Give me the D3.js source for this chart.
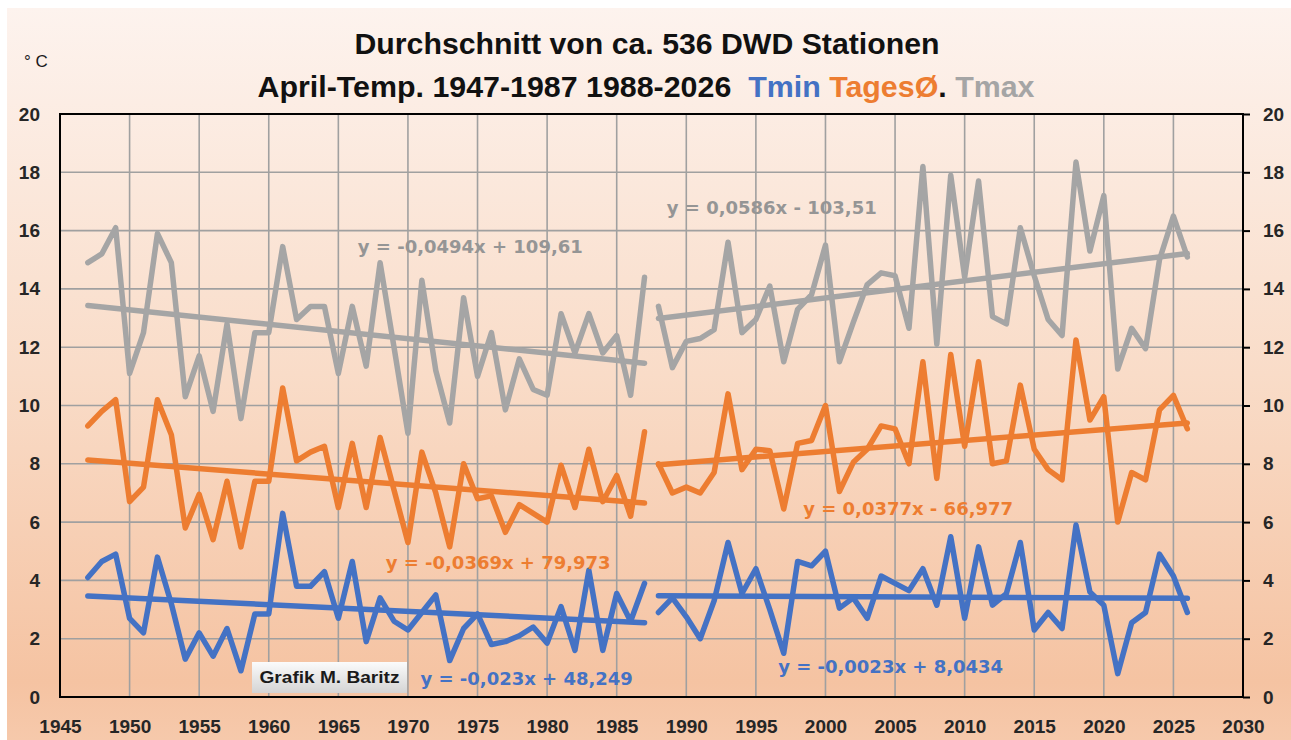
<!DOCTYPE html>
<html>
<head>
<meta charset="utf-8">
<script src="https://cdn.jsdelivr.net/npm/d3@7"></script>
<style>
  body { margin: 0; background: #fff; }
</style>
</head>
<body>
<div id="chart"></div>
<script>
// ===========Data (April, mean of ca. 536 DWD stations)
var years1 = d3.range(1947, 1988);   // 1947-1987
var years2 = d3.range(1988, 2027);   // 1988-2026

var tmax1 = [14.9, 15.2, 16.1, 11.1, 12.5, 15.9, 14.9, 10.3, 11.7, 9.8,
             12.8, 9.55, 12.5, 12.5, 15.45, 12.95, 13.4, 13.4, 11.1, 13.4,
             11.35, 14.9, 12.0, 9.05, 14.3, 11.2, 9.4, 13.7, 11.0, 12.5,
             9.85, 11.6, 10.55, 10.35, 13.15, 11.8, 13.15, 11.8, 12.4, 10.35,
             14.4];
var tages1 = [9.3, 9.8, 10.2, 6.7, 7.2, 10.2, 9.0, 5.8, 6.95, 5.4,
              7.4, 5.15, 7.4, 7.4, 10.6, 8.1, 8.4, 8.6, 6.5, 8.7,
              6.5, 8.9, 7.1, 5.3, 8.4, 7.0, 5.15, 8.0, 6.8, 6.9,
              5.65, 6.6, 6.3, 6.0, 7.95, 6.5, 8.5, 6.7, 7.6, 6.2,
              9.1];
var tmin1 = [4.1, 4.65, 4.9, 2.7, 2.2, 4.8, 3.2, 1.3, 2.2, 1.4,
             2.35, 0.9, 2.85, 2.85, 6.3, 3.8, 3.8, 4.3, 2.7, 4.65,
             1.9, 3.4, 2.6, 2.3, 2.9, 3.5, 1.25, 2.35, 2.85, 1.8,
             1.9, 2.1, 2.4, 1.85, 3.1, 1.6, 4.35, 1.6, 3.55, 2.6,
             3.9];

var tmax2 = [13.4, 11.3, 12.2, 12.3, 12.6, 15.6, 12.5, 12.95, 14.1, 11.5,
             13.3, 13.8, 15.5, 11.5, 12.85, 14.15, 14.55, 14.45, 12.65, 18.2,
             12.1, 17.9, 14.4, 17.7, 13.05, 12.8, 16.1, 14.45, 12.95, 12.4,
             18.35, 15.3, 17.2, 11.25, 12.65, 11.95, 15.0, 16.5, 15.1];
var tages2 = [8.0, 7.0, 7.2, 7.0, 7.7, 10.4, 7.8, 8.5, 8.45, 6.45,
              8.7, 8.8, 10.0, 7.05, 8.05, 8.5, 9.3, 9.2, 8.0, 11.5,
              7.5, 11.75, 8.6, 11.5, 8.0, 8.1, 10.7, 8.5, 7.8, 7.45,
              12.25, 9.5, 10.3, 6.0, 7.7, 7.45, 9.85, 10.35, 9.2];
var tmin2 = [2.9, 3.4, 2.75, 2.0, 3.3, 5.3, 3.55, 4.4, 3.0, 1.5,
             4.65, 4.5, 5.0, 3.05, 3.4, 2.7, 4.15, 3.9, 3.65, 4.4,
             3.15, 5.5, 2.7, 5.15, 3.15, 3.55, 5.3, 2.3, 2.9, 2.35,
             5.9, 3.6, 3.15, 0.8, 2.55, 2.9, 4.9, 4.15, 2.9];

// linear trends as printed in the chart [slope, intercept]
var trendTmax1 = [-0.0494, 109.61];
var trendTmax2 = [0.0586, -103.51];
var trendTages1 = [-0.0369, 79.973];
var trendTages2 = [0.0377, -66.977];
var trendTmin1 = [-0.023, 48.249];
var trendTmin2 = [-0.0023, 8.0434];

// where the trend equations sit [year, °C]
var labTmax1 = [1966.4, 15.45];
var labTmax2 = [1988.6, 16.8];
var labTages1 = [1968.4, 4.6];
var labTages2 = [1998.4, 6.45];
var labTmin1 = [1970.9, 0.62];
var labTmin2 = [1996.6, 1.06];

var xTicks = d3.range(1945, 2031, 5);
var yTicks = d3.range(0, 21, 2);

var series = [
    {name: "Tmin", color: "#4472C4", text: "#4472C4", v1: tmin1, v2: tmin2, t1: trendTmin1, t2: trendTmin2, l1: labTmin1, l2: labTmin2},
    {name: "Tages", color: "#ED7D31", text: "#ED7D31", v1: tages1, v2: tages2, t1: trendTages1, t2: trendTages2, l1: labTages1, l2: labTages2},
    {name: "Tmax", color: "#A5A5A5", text: "#959595", v1: tmax1, v2: tmax2, t1: trendTmax1, t2: trendTmax2, l1: labTmax1, l2: labTmax2}
];

var sansFont = "'Liberation Sans', Arial, sans-serif";
var eqFont = "'DejaVu Sans', Verdana, sans-serif";

// ===========Set Height, Width and Margins
var svgWidth = 1291;
var svgHeight = 740;
var margin = {top: 114, right: 48, bottom: 43, left: 60};
var width = svgWidth - margin.left - margin.right;
var height = svgHeight - margin.top - margin.bottom;

var svg = d3.select("#chart").append("svg")
    .attr("width", svgWidth)
    .attr("height", svgHeight)
    .style("font-family", sansFont);

// ===========Background
var defs = svg.append("defs");
var grad = defs.append("linearGradient")
    .attr("id", "bg")
    .attr("x1", 0).attr("y1", 0).attr("x2", 0).attr("y2", 1);
grad.append("stop").attr("offset", "0%").attr("stop-color", "#fdf3ee");
grad.append("stop").attr("offset", "50%").attr("stop-color", "#f9dcc8");
grad.append("stop").attr("offset", "92%").attr("stop-color", "#f5c3a2");
grad.append("stop").attr("offset", "100%").attr("stop-color", "#f6c9ab");

var btn = defs.append("linearGradient")
    .attr("id", "btn")
    .attr("x1", 0).attr("y1", 0).attr("x2", 0).attr("y2", 1);
btn.append("stop").attr("offset", "0%").attr("stop-color", "#fbfbfb");
btn.append("stop").attr("offset", "100%").attr("stop-color", "#d4d4d4");

svg.append("rect")
    .attr("x", 7).attr("y", 8)
    .attr("width", svgWidth - 7).attr("height", svgHeight - 8)
    .attr("fill", "url(#bg)");

// ===========Title
svg.append("text")
    .attr("x", 647).attr("y", 54)
    .attr("text-anchor", "middle")
    .attr("font-size", 29).attr("font-weight", "bold")
    .attr("textLength", 585).attr("lengthAdjust", "spacingAndGlyphs")
    .attr("fill", "#111")
    .text("Durchschnitt von ca. 536 DWD Stationen");

var title2 = svg.append("text")
    .attr("x", 646).attr("y", 97)
    .attr("text-anchor", "middle")
    .attr("font-size", 29).attr("font-weight", "bold")
    .attr("textLength", 777).attr("lengthAdjust", "spacingAndGlyphs")
    .attr("fill", "#111");
title2.append("tspan").text("April-Temp. 1947-1987 1988-2026\u00a0\u00a0");
title2.append("tspan").attr("fill", "#4472C4").text("Tmin ");
title2.append("tspan").attr("fill", "#ED7D31").text("TagesØ");
title2.append("tspan").text(". ");
title2.append("tspan").attr("fill", "#A5A5A5").text("Tmax");

svg.append("text")
    .attr("x", 24).attr("y", 67)
    .attr("font-size", 17).attr("fill", "#1a1a1a")
    .text("° C");

// ===========Chart group
var chartGroup = svg.append("g")
    .attr("transform", `translate(${margin.left}, ${margin.top})`);

var x = d3.scaleLinear().domain([1945, 2030]).range([0, width]);
var y = d3.scaleLinear().domain([0, 20]).range([height, 0]);

// gridlines
chartGroup.append("g").selectAll("line")
    .data(xTicks.slice(1, -1))
    .enter().append("line")
    .attr("x1", d => x(d)).attr("x2", d => x(d))
    .attr("y1", 0).attr("y2", height)
    .attr("stroke", "#a0a0a0").attr("stroke-width", 1.6);

chartGroup.append("g").selectAll("line")
    .data(yTicks.slice(1, -1))
    .enter().append("line")
    .attr("x1", 0).attr("x2", width)
    .attr("y1", d => y(d)).attr("y2", d => y(d))
    .attr("stroke", "#a0a0a0").attr("stroke-width", 1.6);

chartGroup.append("rect")
    .attr("width", width).attr("height", height)
    .attr("fill", "none").attr("stroke", "#000").attr("stroke-width", 2);

// ===========Axes
var leftAxis = chartGroup.append("g")
    .call(d3.axisLeft(y).tickValues(yTicks).tickSize(0).tickPadding(20));
var rightAxis = chartGroup.append("g")
    .attr("transform", `translate(${width}, 0)`)
    .call(d3.axisRight(y).tickValues(yTicks).tickSize(7).tickPadding(13));
var bottomAxis = chartGroup.append("g")
    .attr("transform", `translate(0, ${height})`)
    .call(d3.axisBottom(x).tickValues(xTicks).tickFormat(d3.format("d")).tickSize(0).tickPadding(23));

[leftAxis, rightAxis, bottomAxis].forEach(function(a) {
    a.attr("font-family", null).attr("font-size", null);
    a.select(".domain").remove();
    a.selectAll("text")
        .style("font-family", sansFont)
        .style("font-size", "19px").style("font-weight", "bold")
        .attr("fill", "#262626");
    a.selectAll(".tick line").attr("stroke", "#000").attr("stroke-width", 2);
});

// ===========Lines
var line = d3.line()
    .x(d => x(d.year))
    .y(d => y(d.value));

function pairs(years, values) {
    return years.map((yr, i) => ({year: yr, value: values[i]}));
}

function trendPts(years, t) {
    var a = years[0], b = years[years.length - 1];
    return [{year: a, value: t[0] * a + t[1]}, {year: b, value: t[0] * b + t[1]}];
}

function fmt(n) {
    return String(Math.abs(n)).replace(".", ",");
}

function eqText(t) {
    return "y = " + (t[0] < 0 ? "-" : "") + fmt(t[0]) + "x " + (t[1] < 0 ? "- " : "+ ") + fmt(t[1]);
}

series.forEach(function(s) {
    [[years1, s.v1], [years2, s.v2]].forEach(function(p) {
        chartGroup.append("path")
            .datum(pairs(p[0], p[1]))
            .attr("d", line)
            .attr("fill", "none")
            .attr("stroke", s.color)
            .attr("stroke-width", 5.5)
            .attr("stroke-linejoin", "round")
            .attr("stroke-linecap", "round");
    });
});

series.forEach(function(s) {
    [[years1, s.t1, s.l1], [years2, s.t2, s.l2]].forEach(function(p) {
        chartGroup.append("path")
            .datum(trendPts(p[0], p[1]))
            .attr("d", line)
            .attr("fill", "none")
            .attr("stroke", s.color)
            .attr("stroke-width", 5.5)
            .attr("stroke-linecap", "round");

        chartGroup.append("text")
            .attr("x", x(p[2][0]))
            .attr("y", y(p[2][1]))
            .attr("dominant-baseline", "central")
            .style("font-family", eqFont)
            .style("font-size", "18px").style("font-weight", "bold")
            .attr("fill", s.text)
            .text(eqText(p[1]));
    });
});

// ===========Credit box
var credit = svg.append("g").attr("transform", "translate(252, 662)");
credit.append("rect")
    .attr("width", 155).attr("height", 31)
    .attr("fill", "url(#btn)");
credit.append("text")
    .attr("x", 77.5).attr("y", 21)
    .attr("text-anchor", "middle")
    .attr("font-size", 16).attr("font-weight", "bold")
    .attr("textLength", 140).attr("lengthAdjust", "spacingAndGlyphs")
    .attr("fill", "#1a1a1a")
    .text("Grafik M. Baritz");
</script>
</body>
</html>
